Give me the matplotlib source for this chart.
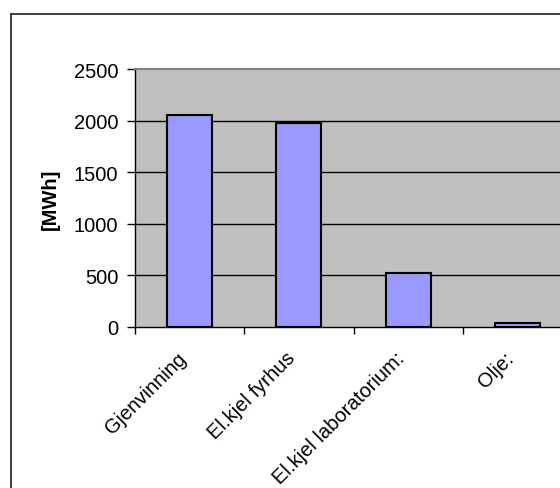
import matplotlib
matplotlib.use('Agg')
import matplotlib.pyplot as plt
import matplotlib.transforms as mtransforms
from matplotlib.lines import Line2D

plt.rcParams['font.family'] = ['Liberation Sans', 'DejaVu Sans']

categories = ['Gjenvinning', 'El.kjel fyrhus', 'El.kjel laboratorium:', 'Olje:']
energy_mwh = [2050, 1980, 520, 40]
y_ticks = [0, 500, 1000, 1500, 2000, 2500]

W, H = 560, 489
DPI = 100
FS = 14.5

fig = plt.figure(figsize=(W / DPI, H / DPI), dpi=DPI)
fig.patch.set_facecolor('white')

# plot area runs slightly past the right edge of the canvas
ax = fig.add_axes([135 / W, 1 - 328 / H, (572 - 135) / W, (328 - 70) / H])
ax.set_facecolor('#C0C0C0')

x = list(range(len(categories)))
ax.bar(x, energy_mwh, width=0.41, color='#9999FF', edgecolor='black',
       linewidth=1.5, zorder=3)

ax.set_xlim(-0.5, len(categories) - 0.5)
ax.set_ylim(0, 2500)
ax.set_yticks(y_ticks)
ax.set_yticklabels([str(v) for v in y_ticks], fontsize=FS)
for v in y_ticks[1:-1]:
    ax.axhline(v, color='black', lw=1.0, zorder=1)

# category ticks sit on the boundaries
ax.set_xticks([i - 0.5 for i in range(len(categories) + 1)])
ax.set_xticklabels([])
ax.tick_params(axis='x', length=5, width=1, color='black')
ax.tick_params(axis='y', length=6, width=1, color='black', pad=6)

# slanted category names, ending just left of each category centre
base = mtransforms.blended_transform_factory(ax.transData, ax.transAxes)
shift = mtransforms.ScaledTranslation(-13 / DPI, -21 / DPI, fig.dpi_scale_trans)
for xi, name in zip(x, categories):
    ax.text(xi, 0, name, transform=base + shift, rotation=45,
            rotation_mode='anchor', ha='right', va='top', fontsize=FS,
            clip_on=False)

ax.set_ylabel('[MWh]', fontsize=FS, fontweight='bold', labelpad=10)

for side in ['left', 'bottom']:
    ax.spines[side].set_color('black')
    ax.spines[side].set_linewidth(1.0)
ax.spines['top'].set_color('#808080')
ax.spines['top'].set_linewidth(1.5)
ax.spines['right'].set_visible(False)

# chart frame (top and left edges fall inside the canvas)
fx = 11 / W
fy = 1 - 15 / H
fig.add_artist(Line2D([fx, fx], [0, fy], color='#333333', lw=1.3))
fig.add_artist(Line2D([fx, 1], [fy, fy], color='#333333', lw=1.3))

fig.savefig('out.png', dpi=DPI, facecolor='white')
